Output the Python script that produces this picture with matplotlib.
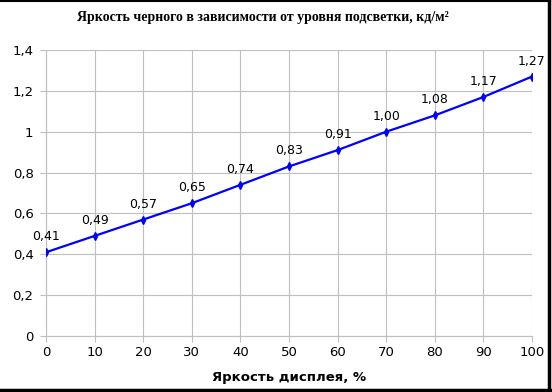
import matplotlib
matplotlib.use("Agg")
import matplotlib.pyplot as plt
from matplotlib.lines import Line2D

x_vals = [0, 10, 20, 30, 40, 50, 60, 70, 80, 90, 100]
y_vals = [0.41, 0.49, 0.57, 0.65, 0.74, 0.83, 0.91, 1.00, 1.08, 1.17, 1.27]
y_ticks = [0, 0.2, 0.4, 0.6, 0.8, 1.0, 1.2, 1.4]
y_tick_labels = ["0", "0,2", "0,4", "0,6", "0,8", "1", "1,2", "1,4"]
x_ticks = [0, 10, 20, 30, 40, 50, 60, 70, 80, 90, 100]
title = "Яркость черного в зависимости от уровня подсветки, кд/м²"
xlabel = "Яркость дисплея, %"

fig = plt.figure(figsize=(5.52, 3.92), dpi=100)
ax = fig.add_axes([46/552, 56/392, 486/552, 286/392])

ax.plot(x_vals, y_vals, color="#0000FF", lw=1.6, marker="d", markersize=4, zorder=3)
for xv, yv in zip(x_vals, y_vals):
    ax.annotate(f"{yv:.2f}".replace(".", ","), (xv, yv), xytext=(0, 6.5),
                textcoords="offset points", ha="center", va="bottom",
                fontsize=9, family="DejaVu Sans", color="black")

ax.set_xlim(0, 100)
ax.set_ylim(0, 1.4)
ax.set_yticks(y_ticks)
ax.set_yticklabels(y_tick_labels)
ax.set_xticks(x_ticks)
ax.grid(True, color="#BFBFBF", lw=0.8)
ax.set_axisbelow(True)
for s in ["top", "right"]:
    ax.spines[s].set_visible(False)
for s in ["left", "bottom"]:
    ax.spines[s].set_color("#BFBFBF")
    ax.spines[s].set_linewidth(0.8)
ax.tick_params(axis="both", colors="#BFBFBF", labelcolor="black", labelsize=9.5, length=4, width=0.8)
ax.tick_params(axis="y", pad=5)

ax.set_xlabel(xlabel, fontsize=9.5, fontweight="bold", labelpad=8)
fig.text(263/552, 1 - 18/392, title, ha="center", va="center", fontsize=10,
         fontweight="bold", family="Liberation Serif")

# border (top, right, bottom)
fig.add_artist(Line2D([0, 550/552], [391.5/392, 391.5/392], transform=fig.transFigure, color="black", lw=1.5))
fig.add_artist(Line2D([549/552, 549/552], [0, 1], transform=fig.transFigure, color="black", lw=2.5))
fig.add_artist(Line2D([0, 550/552], [2.5/392, 2.5/392], transform=fig.transFigure, color="black", lw=2.5))

fig.savefig("out.png", dpi=100)
